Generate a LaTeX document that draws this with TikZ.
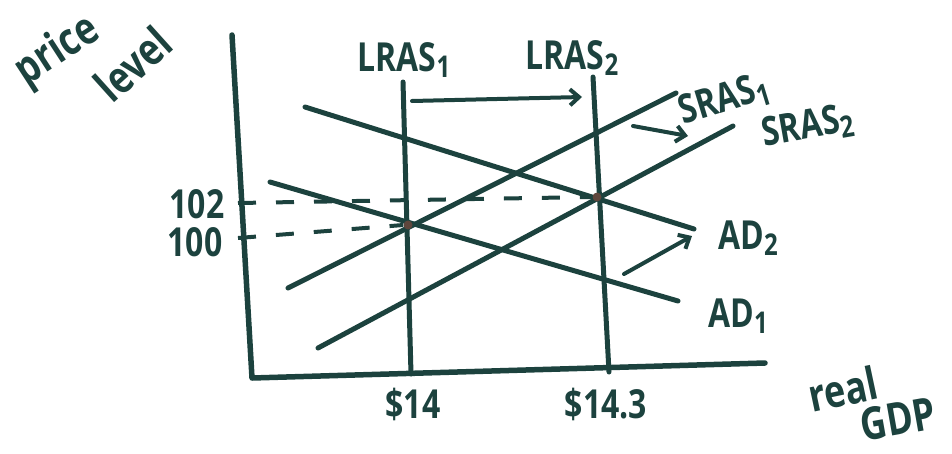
\documentclass[tikz,border=0pt]{standalone}
\usepackage{fontspec}
\setmainfont{Open Sans}
\usetikzlibrary{arrows.meta}
\definecolor{ink}{RGB}{28,66,62}
\definecolor{dotc}{RGB}{95,70,60}
\newcommand{\sbx}[1]{{\fontsize{24}{24}\selectfont\raisebox{-5pt}{#1}}}
\newcommand{\tl}[1]{\scalebox{1}[1.25]{#1}}
\begin{document}
\begin{tikzpicture}[x=1pt,y=-1pt,
  curve/.style={draw=ink,line width=5pt,line cap=round},
  axis/.style={draw=ink,line width=5.5pt,line cap=round,line join=round},
  guide/.style={draw=ink,line width=4pt,dash pattern=on 18pt off 20pt},
  shiftarrow/.style={draw=ink,line width=4pt,line cap=round,-{Straight Barb[length=9pt,width=16pt,line width=4pt]}},
  lab/.style={text=ink,font=\fontsize{32}{32}\selectfont\bfseries,inner sep=0pt},
  biglab/.style={lab,font=\fontsize{36}{36}\selectfont\bfseries},
  eq/.style={circle,fill=dotc,inner sep=0pt,minimum size=9pt},
]
\useasboundingbox (0,0) rectangle (952,453);
% axes
\coordinate (Ytop) at (232,35);
\coordinate (O) at (252,378);
\coordinate (Xend) at (765,363);
\draw[axis] (Ytop) -- (O) -- (Xend);
% LRAS
\coordinate (L1t) at (403,82);
\coordinate (L1b) at (411,374);
\coordinate (L2t) at (593,77);
\coordinate (L2b) at (609,372);
\draw[curve] (L1t) -- (L1b);
\draw[curve] (L2t) -- (L2b);
% SRAS
\coordinate (S1a) at (288,288);
\coordinate (S1b) at (676,93);
\coordinate (S2a) at (318,348);
\coordinate (S2b) at (733,126);
\draw[curve] (S1a) -- (S1b);
\draw[curve] (S2a) -- (S2b);
% AD
\coordinate (D2a) at (305,107);
\coordinate (D2b) at (694,229);
\coordinate (D1a) at (270,182);
\coordinate (D1b) at (678,301);
\draw[curve] (D2a) -- (D2b);
\draw[curve] (D1a) -- (D1b);
% equilibria and guides
\node[eq] (E1) at (408,225) {};
\node[eq] (E2) at (597,197) {};
\coordinate (T102) at (238,203);
\coordinate (T100) at (238,238);
\draw[guide] (T102) -- (E2.west);
\draw[guide] (T100) -- (E1.west);
% shift arrows
\coordinate (A1s) at (412,101);
\coordinate (A1e) at (582,97);
\draw[shiftarrow] (A1s) -- (A1e);
\coordinate (A2s) at (633,126);
\coordinate (A2e) at (688,136);
\draw[shiftarrow] (A2s) -- (A2e);
\coordinate (A3s) at (624,274);
\coordinate (A3e) at (692,236);
\draw[shiftarrow] (A3s) -- (A3e);
% labels
\node[lab] (lL1) at (404,60) {\tl{LRAS\sbx{1}}};
\node[lab] (lL2) at (572,58) {\tl{LRAS\sbx{2}}};
\node[lab,rotate=17] (lS1) at (724,100) {\tl{SRAS\sbx{1}}};
\node[lab,rotate=10] (lS2) at (808,127) {\tl{SRAS\sbx{2}}};
\node[lab] (lD2) at (748,238) {\tl{AD\sbx{2}}};
\node[lab] (lD1) at (738,316) {\tl{AD\sbx{1}}};
\node[lab] (l102) at (197,204) {\tl{102}};
\node[lab] (l100) at (195,242) {\tl{100}};
\node[lab] (lx1) at (413,404) {\tl{\$14}};
\node[lab] (lx2) at (606,404) {\tl{\$14.3}};
\node[biglab,rotate=12] (lreal) at (843,389) {\tl{real}};
\node[biglab,rotate=10] (lgdp) at (898,419) {\tl{GDP}};
\node[biglab,rotate=33] (lprice) at (58,52) {\tl{price}};
\node[biglab,rotate=42] (llevel) at (133,64) {\tl{level}};
\end{tikzpicture}
\end{document}
